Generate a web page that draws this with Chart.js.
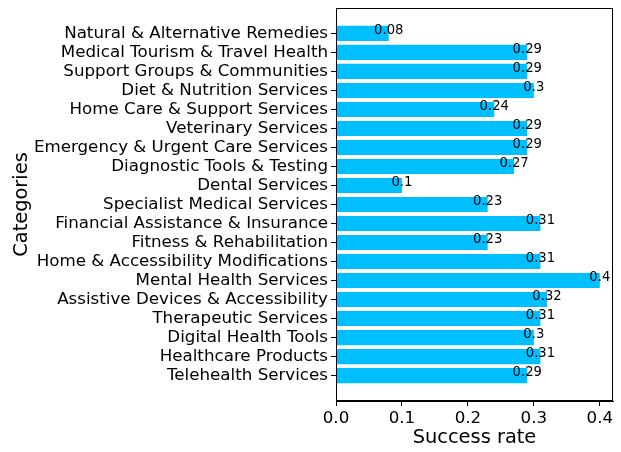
<!DOCTYPE html>
<html>
<head>
<meta charset="utf-8">
<script src="https://cdn.jsdelivr.net/npm/chart.js@4"></script>
<style>
  html, body { margin: 0; padding: 0; background: #fff; }
  #wrap { width: 621px; height: 452px; }
</style>
</head>
<body>
<div id="wrap"><canvas id="rates"></canvas></div>
<script>
// categories top to bottom, as shown
const categories = [
  'Natural & Alternative Remedies',
  'Medical Tourism & Travel Health',
  'Support Groups & Communities',
  'Diet & Nutrition Services',
  'Home Care & Support Services',
  'Veterinary Services',
  'Emergency & Urgent Care Services',
  'Diagnostic Tools & Testing',
  'Dental Services',
  'Specialist Medical Services',
  'Financial Assistance & Insurance',
  'Fitness & Rehabilitation',
  'Home & Accessibility Modifications',
  'Mental Health Services',
  'Assistive Devices & Accessibility',
  'Therapeutic Services',
  'Digital Health Tools',
  'Healthcare Products',
  'Telehealth Services'
];
const successRate = [0.08, 0.29, 0.29, 0.3, 0.24, 0.29, 0.29, 0.27, 0.1, 0.23,
                     0.31, 0.23, 0.31, 0.4, 0.32, 0.31, 0.3, 0.31, 0.29];
const xTicks = [0, 0.1, 0.2, 0.3, 0.4];

const FONT = 'DejaVu Sans';

// value text at the end of each bar
const valueLabels = {
  id: 'valueLabels',
  afterDatasetsDraw(chart) {
    const ctx = chart.ctx;
    const xs = chart.scales.x, ys = chart.scales.y;
    ctx.save();
    ctx.font = '13.2px "' + FONT + '"';
    ctx.fillStyle = '#000';
    ctx.textAlign = 'center';
    ctx.textBaseline = 'alphabetic';
    successRate.forEach((v, i) => {
      ctx.fillText(String(v), xs.getPixelForValue(v), ys.getPixelForValue(i) + 0.5);
    });
    ctx.restore();
  }
};

// box round the plot (top and right spines)
const frame = {
  id: 'frame',
  afterDraw(chart) {
    const a = chart.chartArea, ctx = chart.ctx;
    ctx.save();
    ctx.strokeStyle = '#000';
    ctx.lineWidth = 1;
    ctx.strokeRect(a.left + 0.5, a.top + 0.5, a.right - a.left - 1, a.bottom - a.top - 1);
    ctx.restore();
  }
};

new Chart(document.getElementById('rates'), {
  type: 'bar',
  data: {
    datasets: [{
      data: successRate.map((v, i) => ({ x: v, y: i })),
      backgroundColor: '#00BFFF',
      borderWidth: 0,
      barPercentage: 0.8,
      categoryPercentage: 1
    }]
  },
  options: {
    indexAxis: 'y',
    responsive: true,
    maintainAspectRatio: false,
    animation: false,
    layout: { padding: { top: 8, right: 8, left: 0, bottom: 0 } },
    plugins: { legend: { display: false }, tooltip: { enabled: false } },
    scales: {
      x: {
        type: 'linear',
        min: 0,
        max: 0.42,
        afterBuildTicks: s => { s.ticks = xTicks.map(v => ({ value: v })); },
        afterFit: s => { s.height = 51; s.paddingLeft = 0; s.paddingRight = 0; },
        ticks: {
          color: '#000',
          font: { family: FONT, size: 16.7 },
          padding: 3,
          callback: v => v.toFixed(1)
        },
        grid: { drawOnChartArea: false, tickLength: 5, tickColor: '#000' },
        border: { color: '#000' },
        title: {
          display: true,
          text: 'Success rate',
          color: '#000',
          font: { family: FONT, size: 19.4 },
          padding: { top: 0, bottom: 2 }
        }
      },
      y: {
        type: 'linear',
        reverse: true,
        offset: false,
        min: -1.34,
        max: 19.34,
        afterBuildTicks: s => { s.ticks = categories.map((c, i) => ({ value: i })); },
        afterFit: s => { s.width = 336; s.paddingTop = 0; s.paddingBottom = 0; },
        ticks: {
          color: '#000',
          font: { family: FONT, size: 16.7 },
          padding: 3,
          autoSkip: false,
          callback: v => categories[v]
        },
        grid: { offset: false, drawOnChartArea: false, tickLength: 5, tickColor: '#000' },
        border: { color: '#000' },
        title: {
          display: true,
          text: 'Categories',
          color: '#000',
          font: { family: FONT, size: 19.4 },
          padding: { top: 10, bottom: 0 }
        }
      }
    }
  },
  plugins: [valueLabels, frame]
});
</script>
</body>
</html>
